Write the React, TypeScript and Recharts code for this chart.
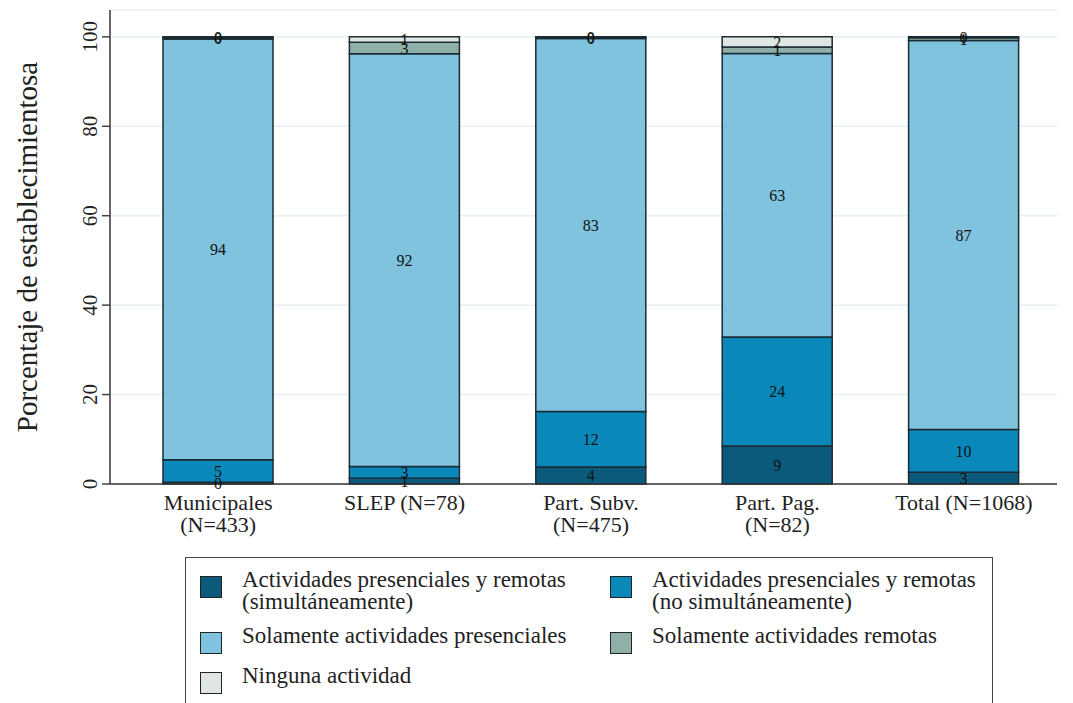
import React from 'react';
import { BarChart, Bar, XAxis, YAxis, CartesianGrid, LabelList } from 'recharts';

const categories = ['Municipales|(N=433)', 'SLEP (N=78)', 'Part. Subv.|(N=475)', 'Part. Pag.|(N=82)', 'Total (N=1068)'];
const simultaneo = [0.4, 1.3, 3.8, 8.5, 2.6];
const noSimultaneo = [5.0, 2.6, 12.4, 24.4, 9.6];
const presenciales = [94.1, 92.3, 83.4, 63.4, 87.0];
const remotas = [0.3, 2.6, 0.2, 1.4, 0.6];
const ninguna = [0.2, 1.2, 0.2, 2.3, 0.2];
const yTicks = [0, 20, 40, 60, 80, 100];

const series = [
  { key: 'sim', name: 'Actividades presenciales y remotas|(simultáneamente)', color: '#0b5a7c', values: simultaneo },
  { key: 'nosim', name: 'Actividades presenciales y remotas|(no simultáneamente)', color: '#0a88ba', values: noSimultaneo },
  { key: 'pres', name: 'Solamente actividades presenciales', color: '#7fc3de', values: presenciales },
  { key: 'rem', name: 'Solamente actividades remotas', color: '#8fb0a8', values: remotas },
  { key: 'ning', name: 'Ninguna actividad', color: '#e0e6e4', values: ninguna },
];

const data = categories.map((c, i) => {
  const row: any = { cat: c };
  series.forEach((s) => { row[s.key] = s.values[i]; });
  return row;
});

const FONT = '"Liberation Serif", "DejaVu Serif", serif';

const XTick = (props: any) => {
  const { x, y, payload } = props;
  const lines = String(payload.value).split('|');
  return (
    <text x={x} y={y + 18} textAnchor="middle" fontFamily={FONT} fontSize={22} fill="#222">
      {lines.map((l, i) => (
        <tspan key={i} x={x} dy={i === 0 ? 0 : 22}>{l}</tspan>
      ))}
    </text>
  );
};

const YTick = (props: any) => {
  const { x, y, payload } = props;
  return (
    <text x={x - 3} y={y} transform={`rotate(-90 ${x - 3} ${y})`} textAnchor="middle" fontFamily={FONT} fontSize={21} fill="#222">
      {payload.value}
    </text>
  );
};

// legend order: left column sim, pres, ning; right column nosim, rem
const legendLayout = [
  { s: 0, left: 14, top: 11 },
  { s: 1, left: 424, top: 11 },
  { s: 2, left: 14, top: 67 },
  { s: 3, left: 424, top: 67 },
  { s: 4, left: 14, top: 107 },
];

export default function App() {
  return (
    <div style={{ position: 'relative', width: 1065, height: 695, background: '#fff' }}>
      <BarChart width={1065} height={695} data={data} margin={{ top: 2, right: 16, left: 0, bottom: 159 }} barCategoryGap={0}>
        <CartesianGrid horizontal vertical={false} stroke="#e6f0f2" strokeWidth={1.5} />
        <XAxis dataKey="cat" tick={<XTick />} tickLine={false} axisLine={{ stroke: '#333', strokeWidth: 1.5 }} interval={0} padding={{ left: 15, right: 0 }} height={60} />
        <YAxis
          width={102}
          domain={[0, 106]}
          ticks={yTicks}
          tick={<YTick />}
          tickSize={8}
          tickLine={{ stroke: '#444', strokeWidth: 1.5 }}
          axisLine={{ stroke: '#333', strokeWidth: 1.5 }}
          label={{ value: 'Porcentaje de establecimientosa', angle: -90, position: 'insideLeft', dx: 14, style: { fontFamily: FONT, fontSize: 29, fill: '#222', textAnchor: 'middle' } }}
        />
        {series.map((s) => (
          <Bar key={s.key} dataKey={s.key} stackId="a" fill={s.color} stroke="#1b2b33" strokeWidth={1.5} barSize={110} isAnimationActive={false}>
            <LabelList dataKey={s.key} position="center" formatter={(v: any) => Math.round(Number(v))} style={{ fontFamily: FONT, fontSize: 16, fill: '#111' }} />
          </Bar>
        ))}
      </BarChart>
      <div style={{ position: 'absolute', left: 177, top: 549, width: 808, height: 150, border: '1.5px solid #444', boxSizing: 'border-box', fontFamily: FONT, fontSize: 23, color: '#222' }}>
        {legendLayout.map(({ s, left, top }) => {
          const it = series[s];
          const lines = it.name.split('|');
          return (
            <div key={it.key} style={{ position: 'absolute', left, top, display: 'flex', alignItems: 'flex-start' }}>
              <div style={{ width: 20, height: 20, background: it.color, border: '1.5px solid #222', marginTop: 7, marginRight: 20 }} />
              <div style={{ lineHeight: '22px' }}>
                {lines.map((l, i) => <div key={i}>{l}</div>)}
              </div>
            </div>
          );
        })}
      </div>
    </div>
  );
}
